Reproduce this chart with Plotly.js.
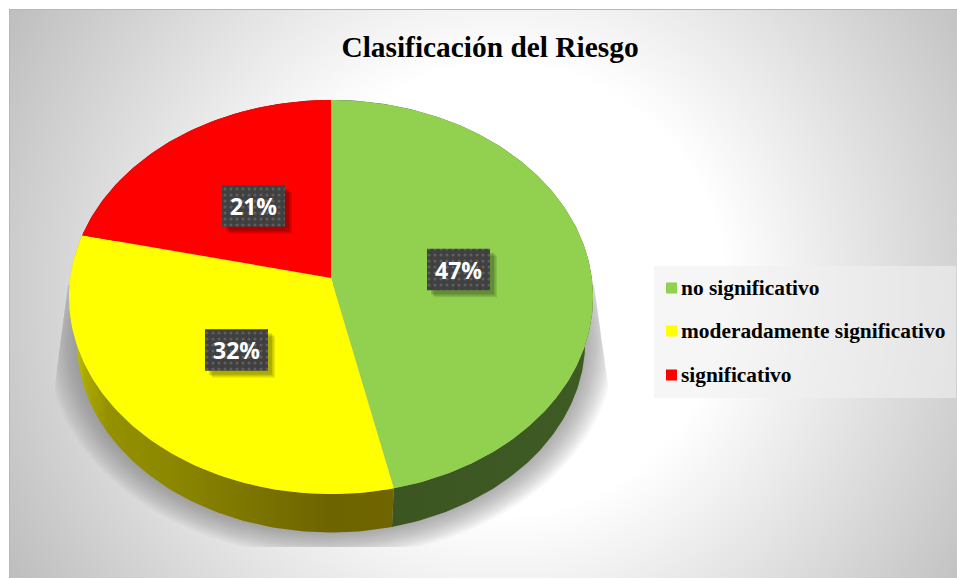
<!DOCTYPE html>
<html>
<head>
<meta charset="utf-8">
<script src="https://cdn.plot.ly/plotly-3.0.1.min.js"></script>
<style>
html,body{margin:0;padding:0;background:#fff;width:957px;height:579px;overflow:hidden}
#bg{position:absolute;left:9px;top:9px;width:948px;height:569px;box-sizing:border-box;border-top:1px solid #b8b8b8;border-left:1px solid #b8b8b8;
background:radial-gradient(circle 560px at 490px 280px,#fff 40%,#bfbfbf 100%)}
#chart{position:absolute;left:0;top:0;width:957px;height:579px}
</style>
</head>
<body>
<div id="bg"></div>
<div id="chart"></div>
<script>
// ---- data ----
const titleText = "Clasificación del Riesgo";
const categories = ["no significativo", "moderadamente significativo", "significativo"];
const shares = [46.5, 32.1, 21.4];
// ---- styles ----
const topColors = ["#92d050", "#ffff00", "#ff0000"];
const wallScales = [
  [[0, "#3a5420"], [1, "#3f5b24"]],
  [[0, "#d0d000"], [0.05, "#aaa800"], [0.12, "#949100"], [0.3, "#8c8800"], [0.8, "#6d6400"], [1, "#706500"]],
  [[0, "#7f0000"], [1, "#7f0000"]]
];
const labelCenters = [[458.5, 269.5], [236.5, 350], [253.5, 206]];
const legendRows = [288, 331, 375];

// perspective disc geometry (pixels)
const disc = {cx: 331, cy: 278, a: 260.8, b: 195.2, k: 0.0965};
const base = {cx: 331, cy: 323, a: 253, b: 189.3, k: 0.0965};
function project(d, deg, grow) {
  const t = deg * Math.PI / 180, u = Math.sin(t), v = Math.cos(t), w = 1 + d.k * v, g = 1 + (grow || 0) / d.a;
  return [d.cx + g * d.a * u / w, d.cy - g * d.b * v / w];
}
function arc(d, from, to) {
  const n = Math.max(2, Math.ceil(Math.abs(to - from))), pts = [];
  for (let i = 0; i <= n; i++) pts.push(project(d, from + (to - from) * i / n));
  return pts;
}
const total = shares.reduce((s, v) => s + v, 0);
const edges = [0];
shares.forEach(v => edges.push(edges[edges.length - 1] + v / total * 360));

const traces = [];
// soft shadow, narrowing toward the top on both sides
for (let e = 30; e >= 1; e -= 1.5) {
  const xs = [], ys = [];
  for (let deg = 0; deg <= 360; deg += 2) {
    const p = project(base, deg, e);
    const y = Math.max(285, Math.min(547, p[1]));
    const taper = Math.max(0, Math.min(1, (385 - y) / 100));
    xs.push(Math.min(608 - 14 * taper, Math.max(55 + 13 * taper, p[0])));
    ys.push(y);
  }
  traces.push({type: "scatter", mode: "lines", x: xs, y: ys, fill: "toself", line: {width: 0},
    fillcolor: "rgba(105,105,125,0.034)", hoverinfo: "skip", showlegend: false});
}
// side walls
shares.forEach((v, i) => {
  const pts = arc(disc, edges[i], edges[i + 1]).concat(arc(base, edges[i + 1], edges[i]));
  traces.push({type: "scatter", mode: "lines", x: pts.map(p => p[0]), y: pts.map(p => p[1]), fill: "toself",
    line: {width: 0}, fillgradient: {type: "horizontal", colorscale: wallScales[i]},
    hoverinfo: "skip", showlegend: false});
});
// top faces
shares.forEach((v, i) => {
  const pts = [[disc.cx, disc.cy]].concat(arc(disc, edges[i], edges[i + 1]));
  pts.push([disc.cx, disc.cy]);
  traces.push({type: "scatter", mode: "lines", name: categories[i], x: pts.map(p => p[0]), y: pts.map(p => p[1]),
    fill: "toself", fillcolor: topColors[i], line: {width: 0}, hoverinfo: "skip", showlegend: false});
});
// label boxes
const boxW = 63, boxH = 41.5;
function rect(cx, cy, w, h) {
  return {x: [cx - w/2, cx + w/2, cx + w/2, cx - w/2, cx - w/2], y: [cy - h/2, cy - h/2, cy + h/2, cy + h/2, cy - h/2]};
}
labelCenters.forEach(c => {
  [[7, 0.10], [5.5, 0.12], [4, 0.14]].forEach(s => {
    const r = rect(c[0] + s[0], c[1] + s[0], boxW, boxH);
    traces.push(Object.assign(r, {type: "scatter", mode: "lines", fill: "toself", fillcolor: "rgba(0,0,0," + s[1] + ")",
      line: {width: 0}, hoverinfo: "skip", showlegend: false}));
  });
  const r = rect(c[0], c[1], boxW, boxH);
  traces.push(Object.assign(r, {type: "scatter", mode: "lines", fill: "toself", line: {width: 0},
    fillpattern: {shape: ".", bgcolor: "#404040", fgcolor: "#5e5e5e", size: 6, solidity: 0.22, fillmode: "replace"},
    hoverinfo: "skip", showlegend: false}));
});

const annotations = [];
shares.forEach((v, i) => annotations.push({
  xref: "x", yref: "y", x: labelCenters[i][0], y: labelCenters[i][1], xanchor: "center", yanchor: "middle",
  text: "<b>" + Math.round(v) + "%</b>", showarrow: false,
  font: {family: "'Open Sans', sans-serif", size: 23, color: "#ffffff"}
}));
categories.forEach((c, i) => annotations.push({
  xref: "x", yref: "y", x: 679, y: legendRows[i], xanchor: "left", yanchor: "middle", align: "left",
  text: "<b>" + c + "</b>", showarrow: false,
  font: {family: "'Liberation Serif', serif", size: 21.4, color: "#000000"}
}));

const shapes = [{type: "rect", xref: "x", yref: "y", x0: 654, x1: 956, y0: 266, y1: 398, layer: "below",
  fillcolor: "rgba(240,240,240,0.6)", line: {width: 0}}];
topColors.forEach((col, i) => shapes.push({type: "rect", xref: "x", yref: "y", x0: 666, x1: 677,
  y0: legendRows[i] - 5.5, y1: legendRows[i] + 5.5, fillcolor: col, line: {width: 0}, layer: "above"}));

const layout = {
  width: 957, height: 579,
  margin: {l: 0, r: 0, t: 0, b: 0},
  paper_bgcolor: "rgba(0,0,0,0)", plot_bgcolor: "rgba(0,0,0,0)",
  showlegend: false,
  title: {text: "<b>" + titleText + "</b>", x: 490 / 957, xanchor: "center", xref: "paper",
    y: 1 - 46.5 / 579, yanchor: "middle", yref: "paper",
    font: {family: "'Liberation Serif', serif", size: 29.4, color: "#000000"}},
  xaxis: {range: [0, 957], visible: false, fixedrange: true},
  yaxis: {range: [579, 0], visible: false, fixedrange: true},
  annotations: annotations,
  shapes: shapes
};
Plotly.newPlot("chart", traces, layout, {displayModeBar: false, staticPlot: true});
</script>
</body>
</html>
